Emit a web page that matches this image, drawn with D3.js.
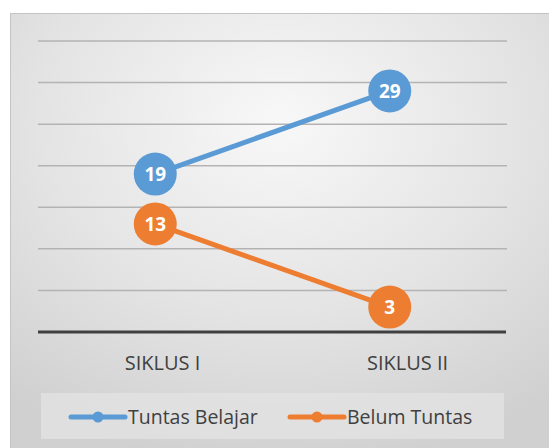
<!DOCTYPE html>
<html>
<head>
<meta charset="utf-8">
<script src="https://d3js.org/d3.v7.min.js"></script>
<style>
  body { margin: 0; background: #fff; }
  svg { display: block; }
</style>
</head>
<body>
<svg id="chart" width="549" height="448"></svg>
<script>
const categories = ["SIKLUS I", "SIKLUS II"];
const tuntas = [19, 29];
const belum = [13, 3];
const yTicks = [0, 5, 10, 15, 20, 25, 30, 35];
const seriesNames = ["Tuntas Belajar", "Belum Tuntas"];
const seriesColors = ["#5B9BD5", "#ED7D31"];

const svg = d3.select("#chart");
const W = 549, H = 448;
const font = "'Open Sans', 'Noto Sans', sans-serif";

// background panel with soft gradient
const defs = svg.append("defs");
const grad = defs.append("radialGradient").attr("id", "bg")
  .attr("cx", "50%").attr("cy", "25%").attr("r", "80%");
grad.append("stop").attr("offset", "0%").attr("stop-color", "#f8f8f8");
grad.append("stop").attr("offset", "55%").attr("stop-color", "#e4e4e4");
grad.append("stop").attr("offset", "100%").attr("stop-color", "#d0d0d0");

svg.append("rect")
  .attr("x", 10.5).attr("y", 13.5)
  .attr("width", W - 10).attr("height", H - 13)
  .attr("fill", "url(#bg)")
  .attr("stroke", "#c4c4c4").attr("stroke-width", 1);

const x = d3.scaleBand().domain(categories).range([38, 507]);
const xLabel = d3.scaleBand().domain(categories).range([40, 530]);
const y = d3.scaleLinear().domain([0, 35]).range([332, 41]);

// gridlines
svg.append("g").selectAll("line")
  .data(yTicks.filter(d => d > 0))
  .join("line")
  .attr("x1", 38).attr("x2", 507)
  .attr("y1", d => y(d)).attr("y2", d => y(d))
  .attr("stroke", "#b3b3b3").attr("stroke-width", 1.5);

// axis line
svg.append("line")
  .attr("x1", 38).attr("x2", 506)
  .attr("y1", y(0)).attr("y2", y(0))
  .attr("stroke", "#404040").attr("stroke-width", 3);

// category labels
svg.append("g").selectAll("text")
  .data(categories)
  .join("text")
  .attr("x", d => xLabel(d) + xLabel.bandwidth() / 2)
  .attr("y", 370)
  .attr("text-anchor", "middle")
  .attr("font-family", font)
  .attr("font-size", 20)
  .attr("fill", "#404040")
  .text(d => d);

const line = d3.line()
  .x((d, i) => x(categories[i]) + x.bandwidth() / 2)
  .y(d => y(d));

[tuntas, belum].forEach((vals, s) => {
  svg.append("path")
    .datum(vals)
    .attr("d", line)
    .attr("fill", "none")
    .attr("stroke", seriesColors[s])
    .attr("stroke-width", 5);

  const g = svg.append("g").selectAll("g")
    .data(vals)
    .join("g")
    .attr("transform", (d, i) => `translate(${x(categories[i]) + x.bandwidth() / 2},${y(d)})`);
  g.append("circle").attr("r", 21.5).attr("fill", seriesColors[s]);
  g.append("text")
    .attr("text-anchor", "middle")
    .attr("dy", "0.36em")
    .attr("font-family", font)
    .attr("font-weight", "bold")
    .attr("font-size", 19)
    .attr("fill", "#fff")
    .text(d => d);
});

// legend
svg.append("rect")
  .attr("x", 41).attr("y", 393)
  .attr("width", 463).attr("height", 46)
  .attr("fill", "#e2e2e2").attr("opacity", 0.8);

const legendX = [71, 290];
const legend = svg.append("g").selectAll("g")
  .data(seriesNames)
  .join("g")
  .attr("transform", (d, i) => `translate(${legendX[i]},417)`);
legend.append("line")
  .attr("x1", 0).attr("x2", 54)
  .attr("stroke", (d, i) => seriesColors[i])
  .attr("stroke-width", 5).attr("stroke-linecap", "round");
legend.append("circle")
  .attr("cx", 27).attr("r", 5.5)
  .attr("fill", (d, i) => seriesColors[i]);
legend.append("text")
  .attr("x", 57)
  .attr("dy", "0.35em")
  .attr("font-family", font)
  .attr("font-size", 19.5)
  .attr("fill", "#404040")
  .text(d => d);
</script>
</body>
</html>
